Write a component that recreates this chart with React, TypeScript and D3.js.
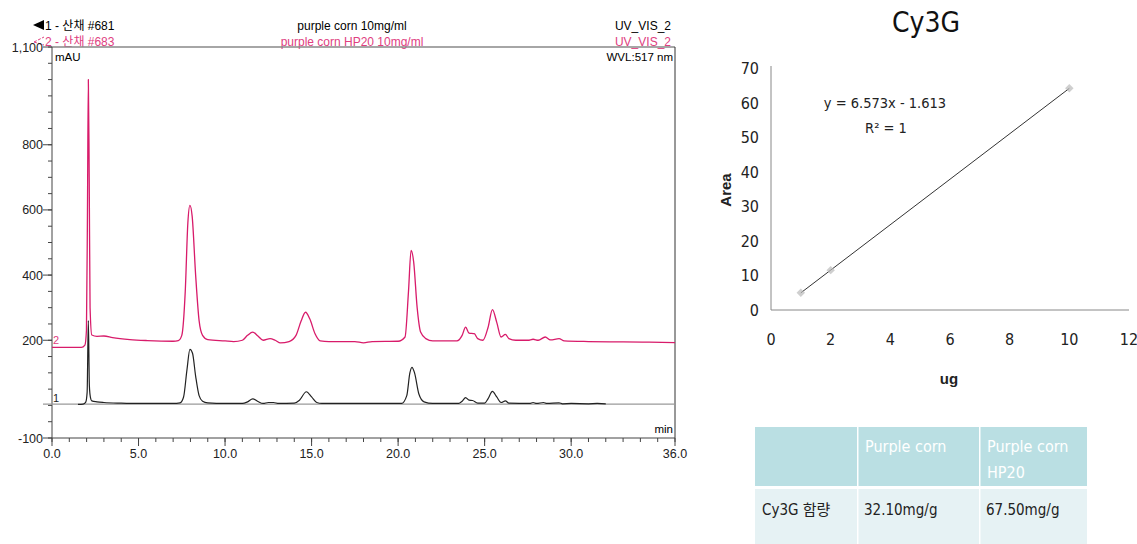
import React from "react";
import * as d3 from "d3";

// ---- Chromatogram data (retention time min, mAU) ----
const trace1: [number, number][] = [
  [1.5, 3], [1.8, 4], [1.95, 10], [2.03, 40], [2.1, 260], [2.16, 60], [2.22, 25], [2.3, 14], [2.6, 11], [3.0, 9], [4, 7], [5, 6],
  [7.0, 6], [7.4, 8], [7.6, 25], [7.8, 110], [7.97, 172], [8.12, 160], [8.3, 90], [8.5, 30], [8.7, 13], [9.0, 8], [10, 6],
  [11.0, 6], [11.3, 11], [11.6, 20], [11.9, 12], [12.2, 6], [12.5, 9], [12.8, 9], [13.1, 6], [14.0, 7], [14.3, 16], [14.7, 42],
  [15.0, 26], [15.3, 9], [15.6, 6], [20.2, 6], [20.5, 30], [20.68, 100], [20.8, 117], [20.95, 100], [21.2, 35], [21.5, 11],
  [22, 6], [23.5, 6], [23.7, 13], [23.9, 24], [24.1, 16], [24.3, 15], [24.6, 7], [25.0, 7], [25.2, 21], [25.45, 43],
  [25.7, 26], [25.95, 9], [26.2, 14], [26.4, 7], [27.6, 6], [27.8, 9], [28.0, 6], [28.4, 9], [28.6, 6], [29.3, 8], [29.5, 5],
  [30, 6], [31, 5], [31.5, 6], [32, 5],
];
const trace2: [number, number][] = [
  [0, 178], [1.7, 178], [1.9, 185], [1.99, 230], [2.05, 600], [2.1, 1000], [2.15, 700], [2.2, 300], [2.3, 216], [2.6, 212],
  [3.0, 213], [3.5, 208], [4.5, 202], [5.5, 199], [7.0, 197], [7.3, 199], [7.5, 215], [7.7, 350], [7.85, 560], [7.97, 614],
  [8.1, 580], [8.3, 400], [8.5, 260], [8.7, 215], [9.0, 202], [10, 198], [10.5, 196], [11.0, 200], [11.3, 215], [11.6, 225],
  [11.9, 213], [12.2, 200], [12.6, 205], [12.9, 200], [13.2, 192], [13.7, 196], [14.1, 215], [14.4, 260], [14.65, 286],
  [14.9, 265], [15.2, 220], [15.5, 198], [16, 196], [17.5, 196], [18, 192], [18.5, 196], [20, 197], [20.4, 210], [20.6, 350],
  [20.75, 476], [20.9, 440], [21.1, 300], [21.3, 225], [21.6, 205], [22, 198], [23.4, 198], [23.7, 215], [23.9, 240],
  [24.1, 222], [24.4, 220], [24.6, 205], [24.9, 200], [25.2, 240], [25.45, 294], [25.7, 255], [25.95, 210], [26.2, 218],
  [26.4, 205], [26.8, 200], [27.5, 200], [27.8, 203], [28.1, 200], [28.5, 210], [28.8, 201], [29.3, 205], [29.6, 198],
  [31, 196], [33, 195], [34.5, 194], [36, 193],
];
const chromXTicks = [0, 5, 10, 15, 20, 25, 30, 36];
const chromXLabels = ["0.0", "5.0", "10.0", "15.0", "20.0", "25.0", "30.0", "36.0"];
const chromYTicks = [-100, 200, 400, 600, 800, 1100];
const chromYLabels = ["-100", "200", "400", "600", "800", "1,100"];

// ---- Calibration curve ----
const calibX = [1, 2, 10];
const calibY = [4.96, 11.533, 64.117];
const calibXTicks = [0, 2, 4, 6, 8, 10, 12];
const calibYTicks = [0, 10, 20, 30, 40, 50, 60, 70];

// ---- Table ----
const tableHeader = ["", "Purple corn", "Purple corn\nHP20"];
const tableRow = ["Cy3G 함량", "32.10mg/g", "67.50mg/g"];

const PINK = "#d81b6a";
const PINK_T = "#e0407f";
const SANS = "'Liberation Sans', Arial, 'Noto Sans CJK KR', sans-serif";
const NARROW = "'Liberation Sans Narrow', 'DejaVu Sans Condensed', 'Noto Sans CJK KR', sans-serif";

export default function App() {
  const x = d3.scaleLinear().domain([0, 36]).range([52, 675]);
  const y = d3.scaleLinear().domain([-100, 1100]).range([438, 47]);
  const line = d3
    .line<[number, number]>()
    .x((d) => x(d[0]))
    .y((d) => y(d[1]))
    .curve(d3.curveMonotoneX);

  const minorX = d3.range(0, 37, 1);
  const minorY = d3.range(-100, 1101, 50);

  const xs = d3.scaleLinear().domain([0, 12]).range([771, 1129]);
  const ys = d3.scaleLinear().domain([0, 70]).range([310, 68]);
  const calibLine = d3
    .line<number>()
    .x((d) => xs(calibX[d]))
    .y((d) => ys(calibY[d]));

  const cols = [755, 857, 979, 1087];
  const hdrTop = 427, hdrBot = 486, rowBot = 544;

  return (
    <svg width={1137} height={544} style={{ position: "absolute", left: 0, top: 0, background: "#fff" }}>
      {/* ===== Chromatogram ===== */}
      <g fontFamily={SANS}>
        {/* header */}
        <path d="M33,25 L44,20 L44,30 Z" fill="#000" />
        <text x={45} y={30} fontSize={12} fill="#000">1 - 산채 #681</text>
        <path d="M34,42 L44,37 M34,42 L44,45" stroke={PINK_T} strokeWidth={1} fill="none" strokeDasharray="3,1.5" />
        <text x={45} y={46} fontSize={12} fill={PINK_T}>2 - 산채 #683</text>
        <text x={352} y={30} fontSize={12} textAnchor="middle" fill="#000">purple corn 10mg/ml</text>
        <text x={352} y={46} fontSize={12} textAnchor="middle" fill={PINK_T}>purple corn HP20 10mg/ml</text>
        <text x={671} y={30} fontSize={12} textAnchor="end" fill="#000">UV_VIS_2</text>
        <text x={671} y={46} fontSize={12} textAnchor="end" fill={PINK_T}>UV_VIS_2</text>

        {/* frame */}
        <line x1={x(0)} x2={x(36)} y1={y(1100)} y2={y(1100)} stroke="#888" strokeWidth={1.5} />
        <line x1={x(36)} x2={x(36)} y1={y(1100)} y2={y(-100)} stroke="#333" strokeWidth={1} />
        <line x1={x(0)} x2={x(0)} y1={y(1100)} y2={y(-100)} stroke="#444" strokeWidth={1} />
        <line x1={x(0)} x2={x(36)} y1={y(-100)} y2={y(-100)} stroke="#444" strokeWidth={1} />
        <text x={55} y={61} fontSize={11.5} fill="#000">mAU</text>
        <text x={673} y={61} fontSize={11.5} textAnchor="end" fill="#000">WVL:517 nm</text>
        <text x={673} y={433} fontSize={11.5} textAnchor="end" fill="#000">min</text>

        {/* y ticks */}
        {minorY.map((v) => (
          <line key={"my" + v} x1={x(0) - 4} x2={x(0)} y1={y(v)} y2={y(v)} stroke="#444" />
        ))}
        {chromYTicks.map((v, i) => (
          <g key={"yt" + v}>
            <line x1={x(0) - 9} x2={x(0)} y1={y(v)} y2={y(v)} stroke="#444" />
            <text x={x(0) - 9} y={y(v) + 4.5} fontSize={12.5} textAnchor="end" fill="#222">{chromYLabels[i]}</text>
          </g>
        ))}
        {/* x ticks */}
        {minorX.map((v) => (
          <line key={"mx" + v} x1={x(v)} x2={x(v)} y1={y(-100)} y2={y(-100) + 4} stroke="#444" />
        ))}
        {chromXTicks.map((v, i) => (
          <g key={"xt" + v}>
            <line x1={x(v)} x2={x(v)} y1={y(-100)} y2={y(-100) + 8} stroke="#444" />
            <text x={x(v)} y={y(-100) + 20} fontSize={12.5} textAnchor="middle" fill="#222">{chromXLabels[i]}</text>
          </g>
        ))}

        {/* traces */}
        <line x1={43} x2={x(36)} y1={y(4)} y2={y(4)} stroke="#9a9a9a" strokeWidth={1.2} />
        <path d={line(trace1) || ""} fill="none" stroke="#222" strokeWidth={1.2} />
        <path d={line(trace2) || ""} fill="none" stroke={PINK} strokeWidth={1.3} />
        <text x={x(0) + 1} y={y(200) + 4} fontSize={11} fill={PINK_T}>2</text>
        <text x={x(0) + 1} y={y(4) - 2} fontSize={11} fill="#222">1</text>
      </g>

      {/* ===== Calibration curve ===== */}
      <g fontFamily={NARROW}>
        <text x={926} y={32} fontSize={28} textAnchor="middle" fill="#111">Cy3G</text>
        <line x1={xs(0)} x2={xs(0)} y1={ys(70) - 2} y2={ys(0)} stroke="#888" />
        <line x1={xs(0)} x2={xs(12)} y1={ys(0)} y2={ys(0)} stroke="#888" />
        {calibYTicks.map((v) => (
          <text key={"cy" + v} x={759} y={ys(v) + 6} fontSize={16} textAnchor="end" fill="#222">{v}</text>
        ))}
        {calibXTicks.map((v) => (
          <text key={"cx" + v} x={xs(v)} y={345} fontSize={16} textAnchor="middle" fill="#222">{v}</text>
        ))}
        <path d={calibLine(d3.range(calibX.length)) || ""} fill="none" stroke="#333" strokeWidth={1} />
        {calibX.map((v, i) => (
          <rect key={"pt" + i} x={xs(v) - 3} y={ys(calibY[i]) - 3} width={6} height={6}
            transform={`rotate(45 ${xs(v)} ${ys(calibY[i])})`} fill="#bbb" opacity={0.7} />
        ))}
        <text x={885} y={108} fontSize={14.5} textAnchor="middle" fill="#222">y = 6.573x  - 1.613</text>
        <text x={886} y={133} fontSize={14.5} textAnchor="middle" fill="#222">R² = 1</text>
        <text transform="translate(731,190) rotate(-90)" fontSize={15} fontWeight="bold" textAnchor="middle"
          fontFamily={SANS} fill="#222">Area</text>
        <text x={949} y={384} fontSize={15} fontWeight="bold" textAnchor="middle" fontFamily={SANS} fill="#222">ug</text>
      </g>

      {/* ===== Table ===== */}
      <g fontFamily={NARROW}>
        {[0, 1, 2].map((c) => (
          <g key={"tc" + c}>
            <rect x={cols[c] + (c ? 1.5 : 0)} y={hdrTop} width={cols[c + 1] - cols[c] - (c ? 1.5 : 0)} height={hdrBot - hdrTop} fill="#badfe3" />
            <rect x={cols[c] + (c ? 1.5 : 0)} y={hdrBot + 3} width={cols[c + 1] - cols[c] - (c ? 1.5 : 0)} height={rowBot - hdrBot - 3} fill="#e6f2f4" />
            {tableHeader[c].split("\n").map((s, k) => (
              <text key={k} x={cols[c] + 8} y={452 + k * 26} fontSize={16} fill="#fff">{s}</text>
            ))}
            <text x={cols[c] + 7} y={515} fontSize={15} fill="#222">{tableRow[c]}</text>
          </g>
        ))}
      </g>
    </svg>
  );
}
